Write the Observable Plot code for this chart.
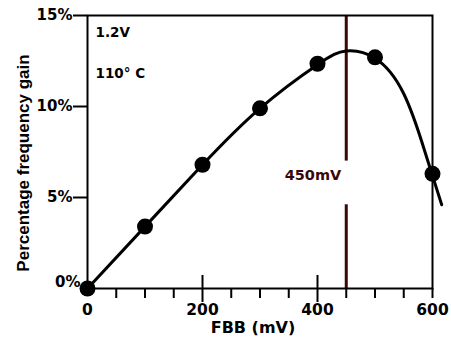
<!DOCTYPE html>
<html>
<head>
<meta charset="utf-8">
<script src="https://cdn.jsdelivr.net/npm/d3@7"></script>
<script src="https://cdn.jsdelivr.net/npm/@observablehq/plot@0.6"></script>
<style>
  html, body { margin: 0; padding: 0; background: #fff; }
</style>
</head>
<body>
<div id="chart"></div>
<script>
// Measured points (FBB in mV, gain in %)
const fbb = [0, 100, 200, 300, 400, 500, 600];
const gain = [0, 3.4, 6.8, 9.9, 12.35, 12.7, 6.3];

// Hand-drawn trend curve
const trendFbb = [0, 100, 200, 300, 400, 450, 500, 550, 586, 600, 616];
const trendGain = [0, 3.4, 6.8, 9.9, 12.3, 13.05, 12.65, 10.7, 7.6, 6.2, 4.6];

// Axis ticks
const xLabelTicks = [0, 200, 400, 600];
const xMajorTicks = [200, 400];
const xMinorTicks = [50, 100, 150, 250, 300, 350, 450, 500, 550, 600];
const yTicks = [5, 10, 15];
const yZeroTick = [0];

// Annotations
const markerX = [450];
const markerLabel = ["450mV"];
const conditions = ["1.2V", "110° C"];

const points = fbb.map((x, i) => ({x, y: gain[i]}));
const trend = trendFbb.map((x, i) => ({x, y: trendGain[i]}));
const marker = markerX.map((x, i) => ({x, label: markerLabel[i]}));

const F = "DejaVu Sans";
const markerColor = "#3a0606";

const chart = Plot.plot({
  width: 451,
  height: 343,
  marginLeft: 87,
  marginRight: 19,
  marginTop: 15,
  marginBottom: 55,
  style: {background: "#fff", fontFamily: F, color: "#000"},
  x: {domain: [0, 600]},
  y: {domain: [0, 15]},
  marks: [
    // marker line at 450 mV (with gap for label)
    Plot.ruleX(marker, {x: "x", y1: 0, y2: 4.6, stroke: markerColor, strokeWidth: 3}),
    Plot.ruleX(marker, {x: "x", y1: 7.0, y2: 15, stroke: markerColor, strokeWidth: 3}),
    Plot.text(marker, {x: "x", text: "label", textAnchor: "end", dx: -5, dy: 23,
      fill: markerColor, fontSize: 14.5, fontWeight: "bold", fontFamily: F}),
    // frame
    Plot.frame({stroke: "#000", strokeWidth: 2}),
    // y axis
    Plot.axisY({ticks: yTicks, tickSize: 14, tickPadding: 1, tickFormat: d => d + "%",
      label: null, fontSize: 15, fontWeight: "bold", fontFamily: F, strokeWidth: 2}),
    Plot.axisY({ticks: yZeroTick, tickSize: 0, tickPadding: 7, dy: -6, tickFormat: d => d + "%",
      label: null, fontSize: 15, fontWeight: "bold", fontFamily: F}),
    // x axis
    Plot.axisX({ticks: xMinorTicks, tickSize: 10, text: null, label: null, strokeWidth: 2}),
    Plot.axisX({ticks: xMajorTicks, tickSize: 14, text: null, label: null, strokeWidth: 2}),
    Plot.tickX(xMajorTicks, {insetTop: 260, stroke: "#000", strokeWidth: 2}),
    Plot.axisX({ticks: xLabelTicks, tickSize: 0, tickPadding: 15, label: null,
      fontSize: 15.5, fontWeight: "bold", fontFamily: F}),
    // trend curve and points
    Plot.line(trend, {x: "x", y: "y", curve: "natural", stroke: "#000", strokeWidth: 3}),
    Plot.dot(points, {x: "x", y: "y", r: 8, fill: "#000"}),
    // condition labels
    Plot.text([conditions[0]], {frameAnchor: "top-left", text: d => d, textAnchor: "start",
      lineAnchor: "top", dx: 8, dy: 12, fontSize: 13.5, fontWeight: "bold", fontFamily: F}),
    Plot.text([conditions[1]], {frameAnchor: "top-left", text: d => d, textAnchor: "start",
      lineAnchor: "top", dx: 8, dy: 53, fontSize: 13.5, fontWeight: "bold", fontFamily: F}),
    // axis titles
    Plot.text(["FBB (mV)"], {frameAnchor: "bottom", text: d => d, textAnchor: "middle", dx: -7, dy: 44,
      fontSize: 16, fontWeight: "bold", fontFamily: F}),
    Plot.text(["Percentage frequency gain"], {frameAnchor: "left", text: d => d, rotate: -90,
      textAnchor: "middle", dx: -64, dy: 11, fontSize: 17, fontWeight: "bold", fontFamily: "Liberation Sans"})
  ]
});

document.getElementById("chart").appendChild(chart);
</script>
</body>
</html>
